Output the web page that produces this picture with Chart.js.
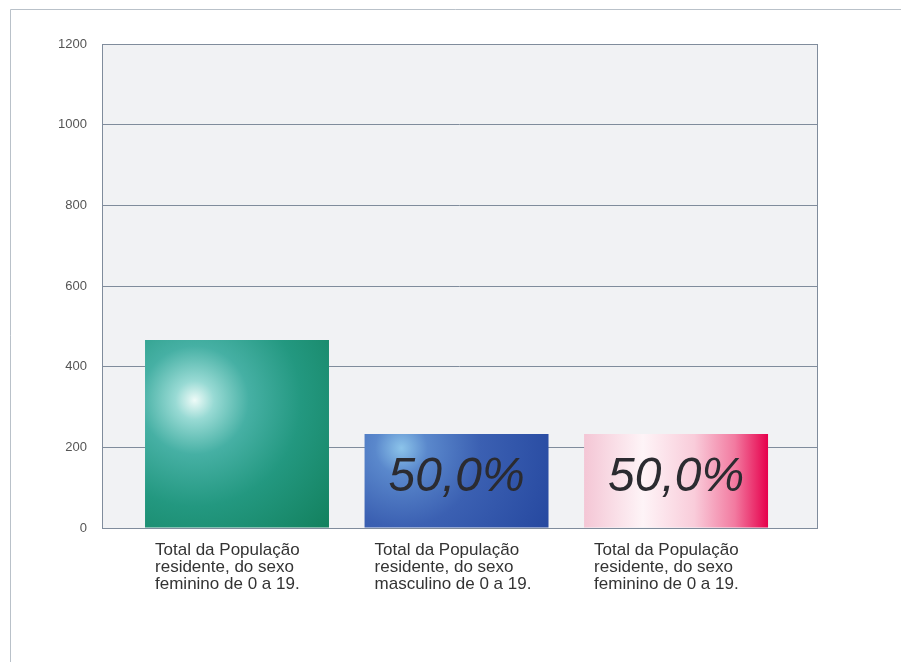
<!DOCTYPE html>
<html>
<head>
<meta charset="utf-8">
<script src="https://cdn.jsdelivr.net/npm/chart.js@4.4.1/dist/chart.umd.min.js"></script>
<style>
  html, body { margin: 0; padding: 0; background: #fff; }
  #wrap { width: 901px; height: 662px; }
</style>
</head>
<body>
<div id="wrap"><canvas id="chart" width="901" height="662"></canvas></div>
<script>
(function () {
  'use strict';

  // Categories (each label split in lines, as in the original)
  var CATEGORIES = [
    ['Total da População', 'residente, do sexo', 'feminino de 0 a 19.'],
    ['Total da População', 'residente, do sexo', 'masculino de 0 a 19.'],
    ['Total da População', 'residente, do sexo', 'feminino de 0 a 19.']
  ];
  var VALUES = [466, 233, 233];
  var BAR_LABELS = ['', '50,0%', '50,0%'];
  var Y_TICKS = [0, 200, 400, 600, 800, 1000, 1200];

  var BAR_PCT = 0.838;
  var FONT = '"Liberation Sans", Arial, sans-serif';

  // Bar geometry taken from the library scales
  function barBox(chart, index, value) {
    var xs = chart.scales.x, ys = chart.scales.y;
    var w = (xs.getPixelForValue(1) - xs.getPixelForValue(0)) * BAR_PCT;
    var cx = xs.getPixelForValue(index);
    var top = ys.getPixelForValue(value);
    var bottom = ys.getPixelForValue(0);
    return { left: cx - w / 2, right: cx + w / 2, top: top, bottom: bottom, w: w, h: bottom - top };
  }

  function barFill(c) {
    var chart = c.chart;
    var fallback = ['#239a74', '#3a5fb0', '#f07aa0'][c.dataIndex];
    if (!chart.chartArea || !chart.scales.x || !chart.scales.y) return fallback;
    var ctx = chart.ctx;
    var b = barBox(chart, c.dataIndex, VALUES[c.dataIndex]);
    var g;
    if (c.dataIndex === 0) {
      var sx = b.left + b.w * 0.27, sy = b.top + b.h * 0.32;
      g = ctx.createRadialGradient(sx, sy, 0, sx, sy, b.w * 1.05);
      g.addColorStop(0, '#eefbf8');
      g.addColorStop(0.1, '#98dad4');
      g.addColorStop(0.28, '#46b0a4');
      g.addColorStop(0.55, '#239880');
      g.addColorStop(1, '#117e5a');
    } else if (c.dataIndex === 1) {
      var bx = b.left + b.w * 0.2, by = b.top + b.h * 0.15;
      g = ctx.createRadialGradient(bx, by, 0, bx, by, b.w * 0.95);
      g.addColorStop(0, '#8cc4ea');
      g.addColorStop(0.15, '#5a88cc');
      g.addColorStop(0.45, '#3b60b2');
      g.addColorStop(1, '#24469e');
    } else {
      g = ctx.createLinearGradient(b.left, 0, b.right, 0);
      g.addColorStop(0, '#f4c6d5');
      g.addColorStop(0.32, '#fef4f7');
      g.addColorStop(0.6, '#f9ccda');
      g.addColorStop(0.82, '#f27aa0');
      g.addColorStop(1, '#e6004c');
    }
    return g;
  }

  var plotBackground = {
    id: 'plotBackground',
    beforeDraw: function (chart) {
      var ctx = chart.ctx, a = chart.chartArea;
      ctx.save();
      ctx.fillStyle = '#ffffff';
      ctx.fillRect(0, 0, chart.width, chart.height);
      // outer frame (top and left edges visible in the original)
      ctx.strokeStyle = '#b9c1c9';
      ctx.lineWidth = 1;
      ctx.beginPath();
      ctx.moveTo(10.5, chart.height);
      ctx.lineTo(10.5, 9.5);
      ctx.lineTo(chart.width, 9.5);
      ctx.stroke();
      ctx.fillStyle = '#f1f2f4';
      ctx.fillRect(a.left, a.top, a.right - a.left, a.bottom - a.top);
      ctx.restore();
    },
    beforeDatasetsDraw: function (chart) {
      var ctx = chart.ctx, a = chart.chartArea;
      ctx.save();
      ctx.strokeStyle = '#808c9c';
      ctx.lineWidth = 1;
      ctx.strokeRect(Math.round(a.left) + 0.5, Math.round(a.top) + 0.5,
        Math.round(a.right - a.left), Math.round(a.bottom - a.top));
      ctx.restore();
    }
  };

  var labelsPlugin = {
    id: 'labelsPlugin',
    afterDatasetsDraw: function (chart) {
      var ctx = chart.ctx;
      var meta = chart.getDatasetMeta(0);
      ctx.save();
      // percentage labels inside the bars
      ctx.font = 'italic 48px ' + FONT;
      ctx.fillStyle = '#2b2b30';
      ctx.textAlign = 'center';
      ctx.textBaseline = 'middle';
      meta.data.forEach(function (bar, i) {
        if (!BAR_LABELS[i]) return;
        var mid = (bar.y + bar.base) / 2 - 3;
        ctx.fillText(BAR_LABELS[i], bar.x, mid);
      });
      // category labels, left aligned a little inside each bar's left edge
      ctx.font = '17px ' + FONT;
      ctx.fillStyle = '#333333';
      ctx.textAlign = 'left';
      var baseY = chart.chartArea.bottom + 22;
      CATEGORIES.forEach(function (lines, i) {
        var x0 = barBox(chart, i, VALUES[i]).left + 10;
        lines.forEach(function (l, k) {
          ctx.fillText(l, x0, baseY + k * 17);
        });
      });
      ctx.restore();
    }
  };

  new Chart(document.getElementById('chart'), {
    type: 'bar',
    data: {
      datasets: [{
        data: VALUES.map(function (v, i) { return { x: i, y: v }; }),
        backgroundColor: barFill,
        borderWidth: 0,
        barPercentage: BAR_PCT,
        categoryPercentage: 1
      }]
    },
    options: {
      responsive: false,
      animation: false,
      layout: { padding: { top: 44, right: 84, left: 0, bottom: 0 } },
      plugins: {
        legend: { display: false },
        tooltip: { enabled: false },
        title: { display: false }
      },
      scales: {
        x: {
          type: 'linear',
          min: -0.615,
          max: 2.642,
          offset: false,
          afterBuildTicks: function (s) {
            s.ticks = CATEGORIES.map(function (c, i) { return { value: i }; });
          },
          grid: { display: false, drawTicks: false },
          border: { display: false },
          ticks: { display: false },
          afterFit: function (s) { s.height = 134; }
        },
        y: {
          min: 0,
          max: 1200,
          afterBuildTicks: function (s) {
            s.ticks = Y_TICKS.map(function (v) { return { value: v }; });
          },
          grid: { color: '#808c9c', lineWidth: 1, drawTicks: false },
          border: { display: false },
          ticks: {
            padding: 15,
            color: '#555555',
            font: { family: FONT, size: 13 },
            callback: function (v) { return String(v); }
          },
          afterFit: function (s) { s.width = 102; }
        }
      }
    },
    plugins: [plotBackground, labelsPlugin]
  });
})();
</script>
</body>
</html>
